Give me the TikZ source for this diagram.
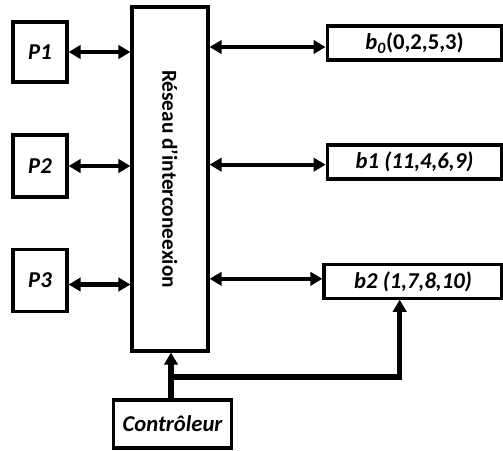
\documentclass[tikz,border=0pt]{standalone}
\usepackage{fontspec}
\setmainfont{Carlito}
\usetikzlibrary{arrows.meta}
\begin{document}
\begin{tikzpicture}[x=0.75pt, y=-0.75pt,
        box/.style={draw, line width=2.4pt, inner sep=0pt, font=\fontsize{17}{20}\selectfont\bfseries\itshape},
        link/.style={line width=3.2pt, {Triangle[length=9pt,width=10pt]}-{Triangle[length=9pt,width=10pt]}},
        ctl/.style={line width=3.8pt, -{Triangle[length=9pt,width=10pt]}}]
        \useasboundingbox (0, 0) rectangle (503, 450);
        % processeurs
        \node[box, minimum width=40.5pt, minimum height=45pt] (P1) at (40, 52) {P1};
        \node[box, minimum width=40.5pt, minimum height=46.5pt] (P2) at (40, 166) {P2};
        \node[box, minimum width=40.5pt, minimum height=47pt] (P3) at (40, 280.5) {P3};
        % reseau
        \node[box, minimum width=57pt, minimum height=258pt] (net) at (170, 179) {};
        \node[rotate=-90, font=\fontsize{16}{19}\selectfont\bfseries] (netlabel) at (net.center) {Réseau d'interconeexion};
        % bancs memoire
        \node[box, minimum width=131pt, minimum height=25.5pt] (b0) at (414.5, 43) {b\textsubscript{0}\upshape(0,2,5,3)};
        \node[box, minimum width=131pt, minimum height=25.5pt] (b1) at (414.5, 162) {b1 (11,4,6,9)};
        \node[box, minimum width=133.5pt, minimum height=25pt] (b2) at (413, 281.5) {b2 (1,7,8,10)};
        % controleur
        \node[box, minimum width=89pt, minimum height=36pt] (ctrl) at (172.5, 424) {Contrôleur};
        \coordinate (jn) at (171, 377);
        \draw[link] (P1.east) -- (P1.east -| net.west);
        \draw[link] (P2.east) -- (P2.east -| net.west);
        \draw[link] ([yshift=-3pt]P3.east) -- ([yshift=-3pt]P3.east -| net.west);
        \draw[link] ([yshift=-3pt]b0.west -| net.east) -- ([yshift=-3pt]b0.west);
        \draw[link] ([yshift=-2pt]b1.west -| net.east) -- ([yshift=-2pt]b1.west);
        \draw[link] ([yshift=2pt]b2.west -| net.east) -- ([yshift=2pt]b2.west);
        \draw[ctl] (ctrl.north -| jn) -- (jn |- net.south);
        \draw[ctl] (jn) -| ([xshift=-10pt]b2.south);
\end{tikzpicture}
\end{document}
